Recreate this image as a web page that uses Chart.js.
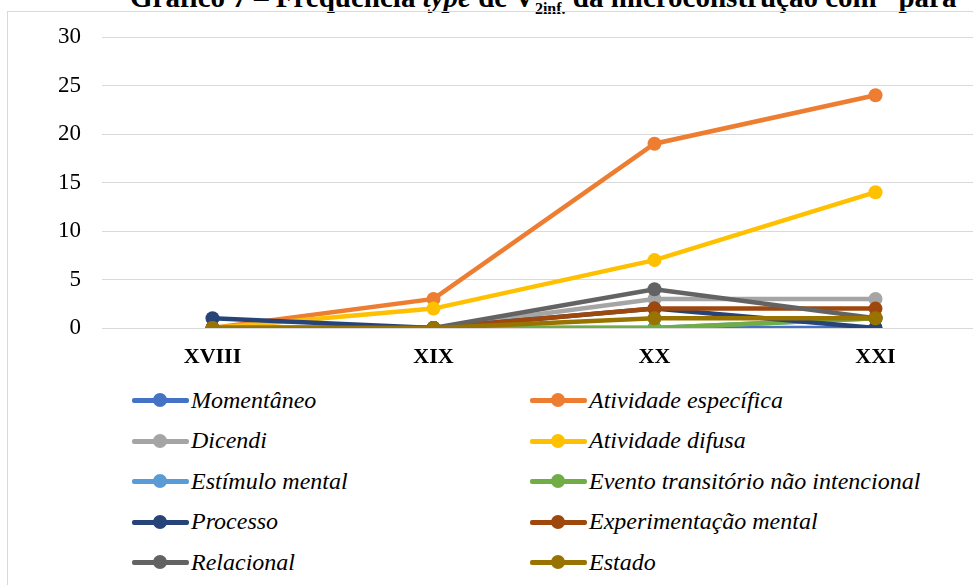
<!DOCTYPE html>
<html>
<head>
<meta charset="utf-8">
<script src="https://cdn.jsdelivr.net/npm/chart.js@4/dist/chart.umd.min.js"></script>
<style>
  html, body { margin: 0; padding: 0; background: #fff; overflow: hidden; }
  body { width: 973px; height: 585px; position: relative; font-family: "Liberation Serif", "Times New Roman", serif; }
  #title { position: absolute; left: 130px; top: -18px; white-space: nowrap; font-size: 29px; line-height: 30px; font-weight: bold; color: #000; }
  #frame { position: absolute; left: 7px; top: 11px; width: 1100px; height: 700px; border: 1px solid #d9d9d9; }
  #wrap { position: absolute; left: 0; top: 0; width: 1000px; height: 370px; }
  #legend { position: absolute; left: 0; top: 0; }
  .item { position: absolute; display: flex; align-items: center; font-style: italic; font-size: 24px; white-space: nowrap; color: #000; }
  .sym { position: relative; width: 57px; height: 14px; margin-right: 2px; }
  .sym .ln { position: absolute; left: 0; right: 0; top: 5px; height: 5px; border-radius: 2px; }
  .sym .dot { position: absolute; left: 21px; top: 0; width: 14px; height: 14px; border-radius: 50%; }
</style>
</head>
<body>
<div id="title">Gráfico 7 – Frequência <i>type</i> de V<sub style="font-size:16px">2inf.</sub> da microconstrução com “para”</div>
<div id="frame"></div>
<div id="wrap"><canvas id="chart" width="1000" height="370"></canvas></div>
<div id="legend"></div>
<script>
// séculos
const seculos = ['XVIII', 'XIX', 'XX', 'XXI'];

// frequência type por classe semântica
const momentaneo = [0, 0, 0, 0];
const atividadeEspecifica = [0, 3, 19, 24];
const dicendi = [0, 0, 3, 3];
const atividadeDifusa = [0, 2, 7, 14];
const estimuloMental = [0, 0, 0, 1];
const eventoTransitorio = [0, 0, 0, 1];
const processo = [1, 0, 2, 0];
const experimentacaoMental = [0, 0, 2, 2];
const relacional = [0, 0, 4, 1];
const estado = [0, 0, 1, 1];

const yTicks = [0, 5, 10, 15, 20, 25, 30];

const series = [
  ['Momentâneo', momentaneo, '#4472C4'],
  ['Atividade específica', atividadeEspecifica, '#ED7D31'],
  ['Dicendi', dicendi, '#A5A5A5'],
  ['Atividade difusa', atividadeDifusa, '#FFC000'],
  ['Estímulo mental', estimuloMental, '#5B9BD5'],
  ['Evento transitório não intencional', eventoTransitorio, '#70AD47'],
  ['Processo', processo, '#264478'],
  ['Experimentação mental', experimentacaoMental, '#9E480E'],
  ['Relacional', relacional, '#636363'],
  ['Estado', estado, '#997300'],
];

const datasets = series.map(([label, data, color], i) => ({
  label,
  data,
  borderColor: color,
  backgroundColor: color,
  borderWidth: 4.5,
  pointRadius: 7,
  pointHoverRadius: 7,
  pointBorderWidth: 0,
  tension: 0,
  order: -i, // como no Excel: última série por cima
}));

new Chart(document.getElementById('chart'), {
  type: 'line',
  data: { labels: seculos, datasets },
  options: {
    responsive: false,
    animation: false,
    layout: { padding: { top: 37, right: 14, left: 0, bottom: 0 } },
    plugins: { legend: { display: false }, tooltip: { enabled: false } },
    scales: {
      x: {
        offset: true,
        grid: { display: false, drawTicks: false },
        border: { display: false },
        ticks: { color: '#000', padding: 16, font: { family: 'Liberation Serif', size: 22, weight: 'bold' } },
        afterFit: (s) => { s.height = 42; },
      },
      y: {
        min: 0,
        max: 30,
        afterBuildTicks: (s) => { s.ticks = yTicks.map((v) => ({ value: v })); },
        grid: { color: '#d9d9d9', lineWidth: 1, drawTicks: false },
        border: { display: false },
        ticks: { color: '#000', padding: 21, font: { family: 'Liberation Serif', size: 23 } },
        afterFit: (s) => { s.width = 102; },
      },
    },
  },
});

// legenda em duas colunas
const legend = document.getElementById('legend');
datasets.forEach((ds, i) => {
  const row = Math.floor(i / 2);
  const col = i % 2;
  const item = document.createElement('div');
  item.className = 'item';
  item.style.left = (col === 0 ? 132 : 530) + 'px';
  item.style.top = (400 + row * 40.5 - 14) + 'px';
  item.style.height = '28px';
  item.innerHTML = '<span class="sym"><span class="ln" style="background:' + ds.borderColor +
    '"></span><span class="dot" style="background:' + ds.borderColor + '"></span></span>' + ds.label;
  legend.appendChild(item);
});
</script>
</body>
</html>
